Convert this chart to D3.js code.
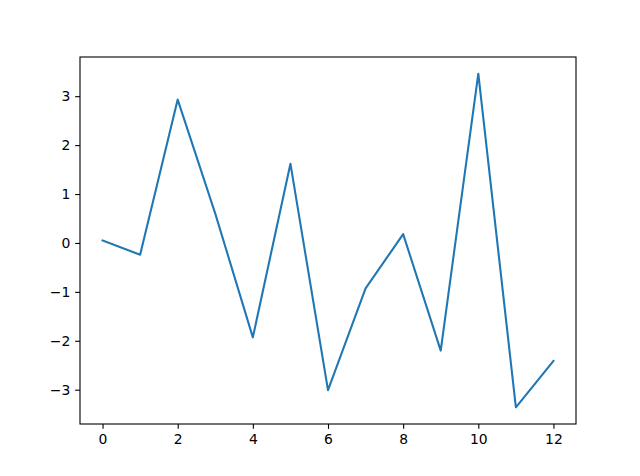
<!DOCTYPE html>
<html>
<head>
<meta charset="utf-8">
<script src="https://cdn.jsdelivr.net/npm/d3@7"></script>
<style>
html, body { margin: 0; padding: 0; background: #fff; }
svg { display: block; }
text { font-family: "DejaVu Sans", sans-serif; font-size: 13.9px; fill: #000; }
</style>
</head>
<body>
<svg id="chart" width="640" height="476"></svg>
<script>
const xValues = [0, 1, 2, 3, 4, 5, 6, 7, 8, 9, 10, 11, 12];
const yValues = [0.05, -0.24, 2.93, 0.60, -1.93, 1.62, -3.01, -0.93, 0.18, -2.20, 3.46, -3.36, -2.41];
const xTicks = [0, 2, 4, 6, 8, 10, 12];
const yTicks = [-3, -2, -1, 0, 1, 2, 3];

const W = 640, H = 476;
const m = { left: 80, right: 576, top: 57, bottom: 424 };
const svg = d3.select("#chart");

const xMin = d3.min(xValues), xMax = d3.max(xValues);
const xPad = (xMax - xMin) * 0.05;
const yMin = d3.min(yValues), yMax = d3.max(yValues);
const yPad = (yMax - yMin) * 0.05;

const x = d3.scaleLinear().domain([xMin - xPad, xMax + xPad]).range([m.left, m.right]);
const y = d3.scaleLinear().domain([yMin - yPad, yMax + yPad]).range([m.bottom, m.top]);

const fmt = d => (d < 0 ? "\u2212" + Math.abs(d) : String(d));

const line = d3.line().x((d, i) => x(xValues[i])).y(d => y(d));
svg.append("path")
  .datum(yValues)
  .attr("d", line)
  .attr("fill", "none")
  .attr("stroke", "#1f77b4")
  .attr("stroke-width", 2.08)
  .attr("stroke-linejoin", "round")
  .attr("stroke-linecap", "square");

const xAxis = d3.axisBottom(x).tickValues(xTicks).tickFormat(fmt).tickSize(4.86).tickPadding(4.86);
const yAxis = d3.axisLeft(y).tickValues(yTicks).tickFormat(fmt).tickSize(4.86).tickPadding(4.86);

const gx = svg.append("g").attr("transform", `translate(0,${m.bottom})`).call(xAxis);
const gy = svg.append("g").attr("transform", `translate(${m.left},0)`).call(yAxis);
[gx, gy].forEach(g => {
  g.select(".domain").remove();
  g.selectAll(".tick line").attr("stroke", "#000").attr("stroke-width", 1.1);
  g.selectAll(".tick text").attr("font-family", "DejaVu Sans, sans-serif").attr("font-size", 13.9).attr("fill", "#000");
});

svg.append("rect")
  .attr("x", m.left).attr("y", m.top)
  .attr("width", m.right - m.left).attr("height", m.bottom - m.top)
  .attr("fill", "none").attr("stroke", "#000").attr("stroke-width", 1.1);
</script>
</body>
</html>
